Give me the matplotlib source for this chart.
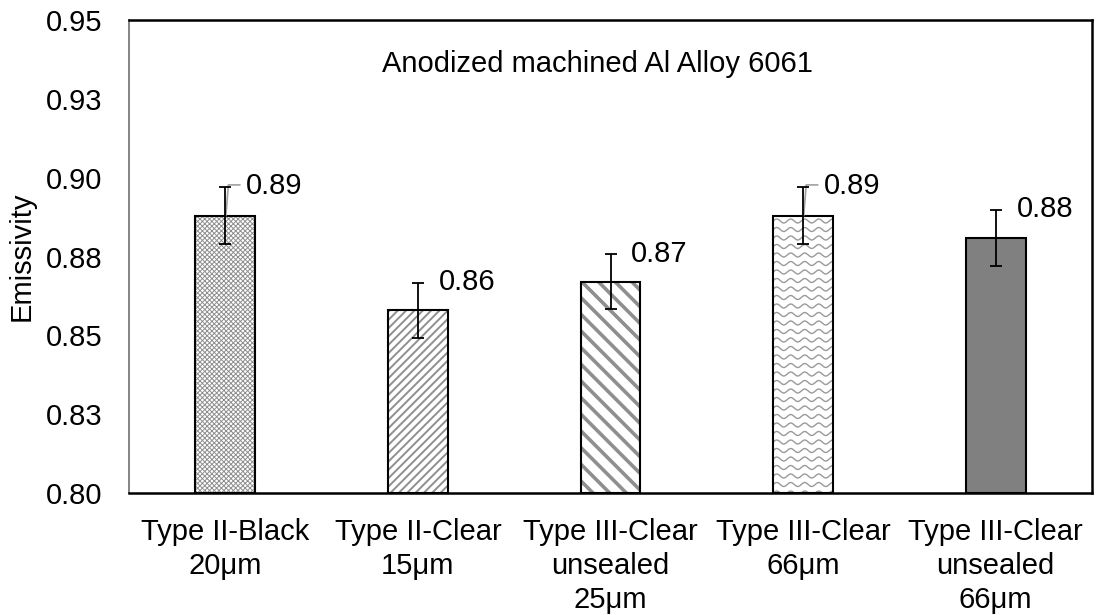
import numpy as np
import matplotlib
matplotlib.use("Agg")
import matplotlib.pyplot as plt

plt.rcParams["font.family"] = ["Liberation Sans", "DejaVu Sans"]
plt.rcParams["font.size"] = 21

# data
categories = ["Type II-Black\n20μm", "Type II-Clear\n15μm", "Type III-Clear\nunsealed\n25μm",
              "Type III-Clear\n66μm", "Type III-Clear\nunsealed\n66μm"]
emissivity = [0.888, 0.858, 0.867, 0.888, 0.881]
errors = [0.009, 0.0087, 0.0087, 0.009, 0.0089]
ytick_values = [0.800, 0.825, 0.850, 0.875, 0.900, 0.925, 0.950]
ytick_labels = ["0.80", "0.83", "0.85", "0.88", "0.90", "0.93", "0.95"]
leader_bars = [0, 3]   # bars whose value label has a small leader line

fig = plt.figure(figsize=(10.99, 6.15), dpi=100)
ax = fig.add_axes([129 / 1099, 1 - 493 / 615, 963 / 1099, 473 / 615])

x = np.arange(len(categories))
width = 0.31

# fills (hatch drawn in gray, outline drawn separately in black)
hatches = ["xxxxxxx", "////", "\\\\", None, None]
faces = ["white", "white", "white", "white", "#808080"]
hatch_lw = [0.7, 1.4, 2.6, 1.0, 1.0]
fills = ax.bar(x, np.array(emissivity) - 0.80, width, bottom=0.80,
               color=faces, edgecolor="#8f8f8f", linewidth=0, zorder=2)
for p, h, lw in zip(fills, hatches, hatch_lw):
    if h:
        p.set_hatch(h)
        if hasattr(p, "set_hatch_linewidth"):
            p.set_hatch_linewidth(lw)

# wavy pattern for the 4th bar
p4 = fills[3]
xs = np.linspace(x[3] - width / 2, x[3] + width / 2, 200)
amp = 2.0 * 0.15 / 473
for y0 in np.arange(0.80, emissivity[3] + 0.003, 8.5 * 0.15 / 473):
    ln, = ax.plot(xs, y0 + amp * np.sin((xs - xs[0]) / (14 / 192.6) * 2 * np.pi),
                  color="#9a9a9a", lw=1.0, zorder=2.5)
    ln.set_clip_path(p4)

ax.bar(x, np.array(emissivity) - 0.80, width, bottom=0.80, fill=False,
       edgecolor="black", linewidth=1.5, zorder=3)
ax.errorbar(x, emissivity, yerr=errors, fmt="none", ecolor="black",
            elinewidth=1.3, capsize=4.5, capthick=1.3, zorder=4)

for i, (v, e) in enumerate(zip(emissivity, errors)):
    ytop = v + e
    ax.annotate(f"{v:.2f}", xy=(x[i], ytop), xytext=(15, 0.5), textcoords="offset points",
                ha="left", va="center", fontsize=21, zorder=5)
    if i in leader_bars:
        ax.plot([x[i] + 0.003, x[i] + 0.016, x[i] + 0.075],
                [v, ytop + 0.0007, ytop + 0.0007], color="#a0a0a0", lw=1.2, zorder=3.5)

ax.set_xlim(-0.5, len(categories) - 0.5)
ax.set_ylim(0.80, 0.95)
ax.set_yticks(ytick_values)
ax.set_yticklabels(ytick_labels)
ax.set_xticks(x)
ax.set_xticklabels(categories, linespacing=1.27)
ax.tick_params(axis="y", length=0, pad=19)
ax.tick_params(axis="x", length=0, pad=18)
for s in ["top", "right", "bottom"]:
    ax.spines[s].set_linewidth(1.8)
    ax.spines[s].set_color("black")
ax.spines["left"].set_linewidth(1.2)
ax.spines["left"].set_color("#707070")

ax.text(0.486, 0.908, "Anodized machined Al Alloy 6061", transform=ax.transAxes,
        ha="center", va="center", fontsize=21)
fig.text(22 / 1099, 1 - 256 / 615, "Emissivity", rotation=90, ha="center", va="center",
         fontsize=21)

fig.savefig("out.png", dpi=100)
